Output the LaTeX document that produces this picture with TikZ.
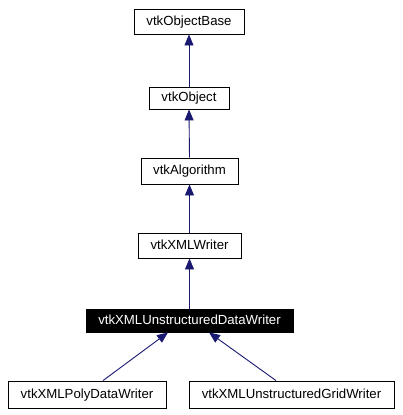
\documentclass[tikz,border=0pt]{standalone}
\usepackage{fontspec}
\setmainfont{Liberation Sans}
\usetikzlibrary{arrows.meta}
\begin{document}
\begin{tikzpicture}[x=1pt,y=-1pt,
  cls/.style={draw=black,line width=0.9pt,fill=white,inner sep=0pt,font=\fontsize{13.2}{15}\selectfont,text height=9.6pt,text depth=2.6pt},
  cur/.style={cls,fill=black,text=white},
  inh/.style={draw={rgb,255:red,25;green,25;blue,112},line width=0.9pt,-{Triangle[length=11pt,width=9pt]}}]
\useasboundingbox (0,0) rectangle (402,415);
\node[cls,minimum width=110pt,minimum height=25pt] (base) at (189,21.5) {vtkObjectBase};
\node[cls,minimum width=80pt,minimum height=22pt] (obj) at (189,98) {vtkObject};
\node[cls,minimum width=97pt,minimum height=26pt] (alg) at (189.5,171) {vtkAlgorithm};
\node[cls,minimum width=103pt,minimum height=25pt] (xw) at (189.5,245.5) {vtkXMLWriter};
\node[cur,minimum width=207pt,minimum height=23pt] (udw) at (189.5,320.5) {vtkXMLUnstructuredDataWriter};
\node[cls,minimum width=158pt,minimum height=27pt] (poly) at (87,394.5) {vtkXMLPolyDataWriter};
\node[cls,minimum width=205pt,minimum height=27pt] (grid) at (291.5,394.5) {vtkXMLUnstructuredGridWriter};
\coordinate (ps) at ([xshift=16pt]poly.north);
\coordinate (gs) at ([xshift=-15.5pt]grid.north);
\coordinate (pt) at ([xshift=-21.5pt]udw.south);
\coordinate (gt) at ([xshift=19.5pt]udw.south);
\draw[inh] (obj.north) -- (base.south);
\draw[inh] (alg.north) -- (obj.south);
\draw[inh] (xw.north) -- (alg.south);
\draw[inh] (udw.north) -- (xw.south);
\draw[inh] (ps) -- (pt);
\draw[inh] (gs) -- (gt);
\end{tikzpicture}
\end{document}
